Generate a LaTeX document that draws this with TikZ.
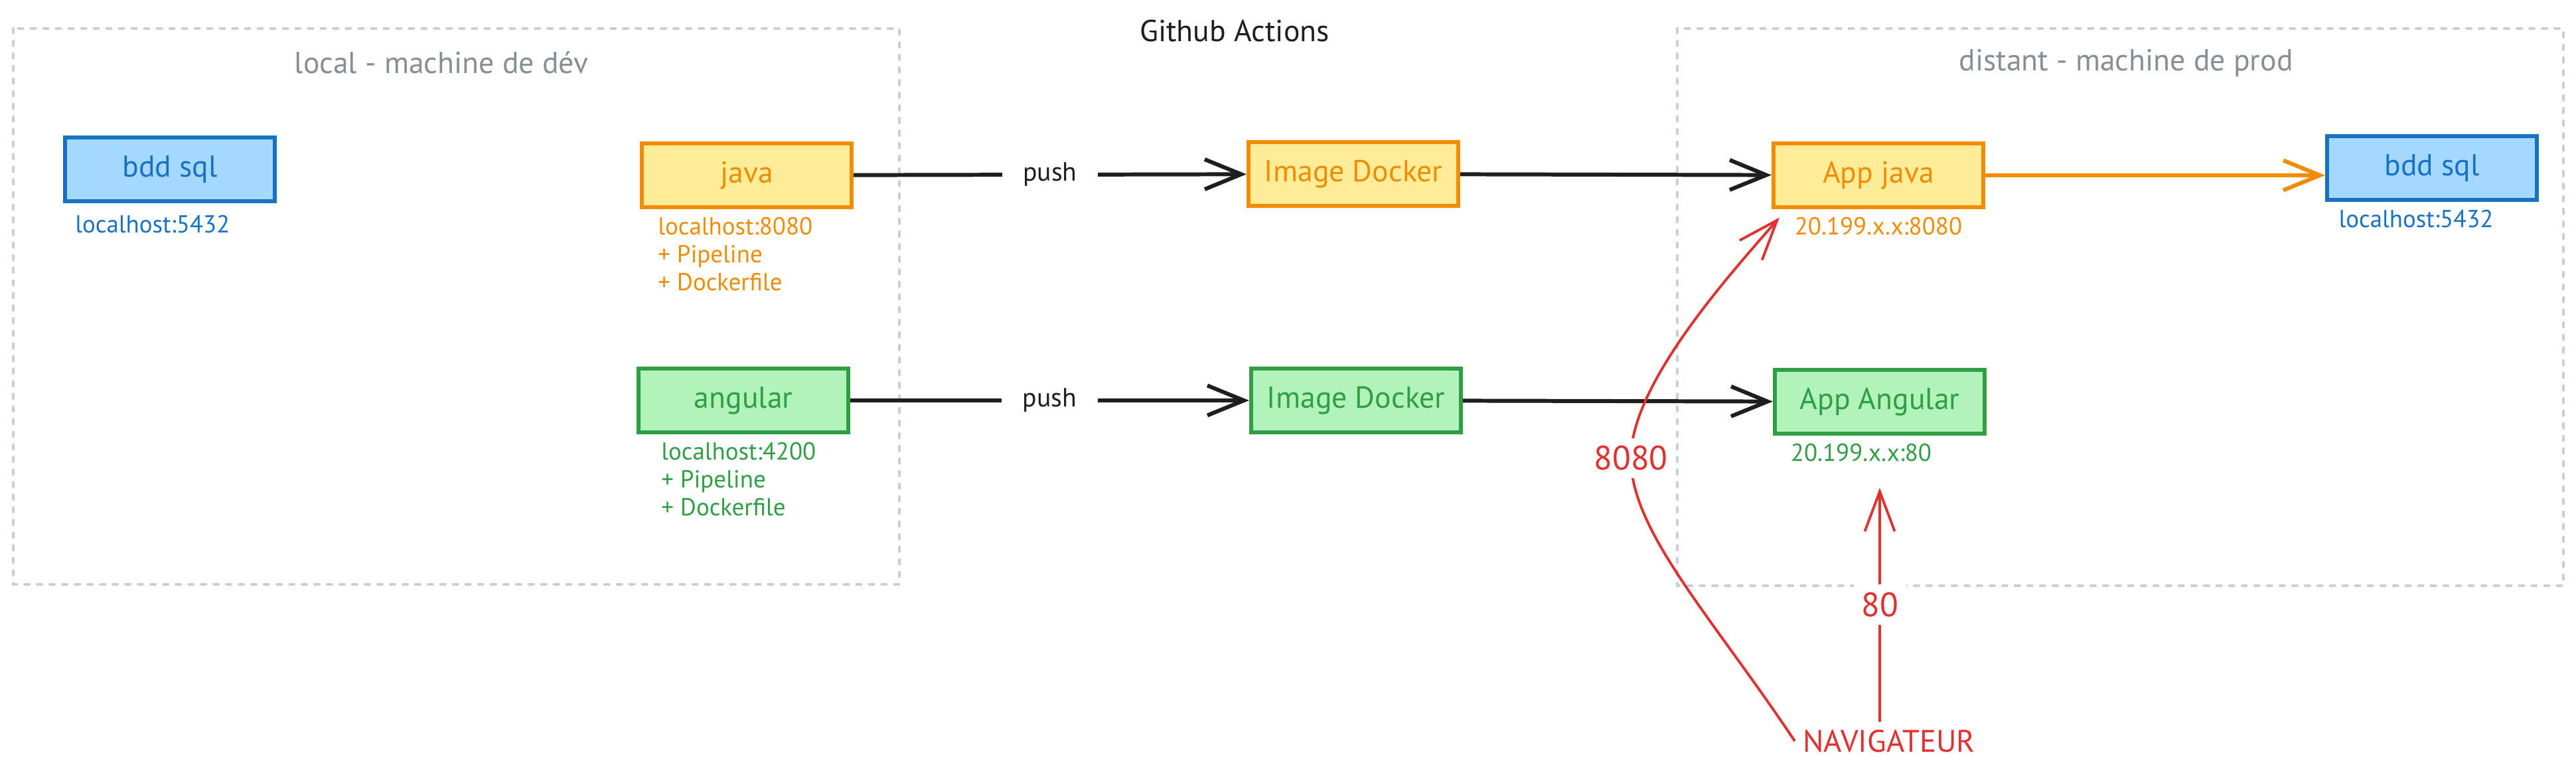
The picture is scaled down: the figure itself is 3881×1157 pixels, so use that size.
\documentclass[tikz,border=0pt]{standalone}
\usepackage{fontspec}
\setmainfont{PT Sans}
\usepackage{tikz}
\usetikzlibrary{arrows.meta}
\definecolor{ink}{HTML}{1E1E1E}
\definecolor{sqlstroke}{HTML}{1971C2}
\definecolor{sqlfill}{HTML}{A5D8FF}
\definecolor{javastroke}{HTML}{F08C00}
\definecolor{javafill}{HTML}{FFEC99}
\definecolor{ngstroke}{HTML}{2F9E44}
\definecolor{ngfill}{HTML}{B2F2BB}
\definecolor{portred}{HTML}{E03131}
\definecolor{zoneline}{HTML}{C8CED5}
\definecolor{zonetext}{HTML}{868E96}

\begin{document}
\begin{tikzpicture}[
  x=0.01cm, y=-0.01cm,
  box/.style={
    draw, line width=1.7pt,
    minimum width=3.16cm, minimum height=0.95cm,
    font=\fontsize{13}{15}\selectfont
  },
  sqlbox/.style={box, draw=sqlstroke, fill=sqlfill, text=sqlstroke},
  javabox/.style={box, draw=javastroke, fill=javafill, text=javastroke},
  ngbox/.style={box, draw=ngstroke, fill=ngfill, text=ngstroke},
  note/.style={font=\fontsize{10.5}{12}\selectfont, align=left},
  zone/.style={
    draw=zoneline, line width=1.3pt,
    line cap=round, dash pattern=on 1.8pt off 3.6pt
  },
  zonetitle/.style={text=zonetext, font=\fontsize{13}{15}\selectfont},
  flow/.style={draw=ink, line width=1.7pt, -{Straight Barb[length=5.5mm, width=4.5mm]}},
  pushlbl/.style={fill=white, text=ink, inner xsep=9pt, font=\fontsize{11.3}{13}\selectfont},
  portflow/.style={draw=portred, line width=1.1pt, -{Straight Barb[length=6mm, width=4.5mm]}},
  port/.style={fill=white, text=portred, font=\fontsize{14.5}{17}\selectfont}
]
  \useasboundingbox (0,0) rectangle (3881,1157);
  \draw[zone] (20,43) rectangle (1355,880);
  \draw[zone] (2527,43) rectangle (3862,882);
  \node[zonetitle] (devtitle) at (665,94) {local - machine de dév};
  \node[zonetitle] (prodtitle) at (3203,95) {distant - machine de prod};
  \node[text=ink, font=\fontsize{13}{15}\selectfont] (gha) at (1860,46) {Github Actions};

  \node[sqlbox] (sqla) at (256,255) {bdd sql};
  \node[javabox] (java) at (1125,264) {java};
  \node[ngbox] (ng) at (1120,603) {angular};
  \node[javabox] (imga) at (2039,262) {Image Docker};
  \node[ngbox] (imgb) at (2043,603) {Image Docker};
  \node[javabox] (appjava) at (2830,264) {App java};
  \node[ngbox] (appng) at (2832,605) {App Angular};
  \node[sqlbox] (sqlb) at (3664,253) {bdd sql};
  \node[text=portred, font=\fontsize{13.3}{16}\selectfont] (nav) at (2846,1116) {NAVIGATEUR};

  \node[note, text=sqlstroke, below right] at ([shift={(6,6)}]sqla.south west) {localhost:5432};
  \node[note, text=javastroke, below right] at ([shift={(15,0)}]java.south west)
    {localhost:8080\\+ Pipeline\\+ Dockerfile};
  \node[note, text=ngstroke, below right] at ([shift={(25,0)}]ng.south west)
    {localhost:4200\\+ Pipeline\\+ Dockerfile};
  \node[note, text=javastroke, below] at (appjava.south) {20.199.x.x:8080};
  \node[note, text=ngstroke, below] at ([shift={(-28,0)}]appng.south) {20.199.x.x:80};
  \node[note, text=sqlstroke, below] at ([shift={(-24,0)}]sqlb.south) {localhost:5432};

  \foreach \src/\dst in {java/imga,ng/imgb} {
    \draw[flow] (\src) -- node[pushlbl] {push} (\dst);
  }
  \foreach \src/\dst in {imga/appjava,imgb/appng} {
    \draw[flow] (\src) -- (\dst);
  }
  \draw[flow, draw=javastroke] (appjava.east) -- (appjava.east -| sqlb.west);
  \draw[portflow] (nav.north -| appng.south) -- node[port] {80} ([shift={(0,79)}]appng.south);
  \draw[portflow] (nav.west) .. controls (2580,930) and (2457,800) .. (2457,690)
    node[port] {8080}
    .. controls (2457,580) and (2600,420) .. ([shift={(12,13)}]appjava.south west);
\end{tikzpicture}
\end{document}
